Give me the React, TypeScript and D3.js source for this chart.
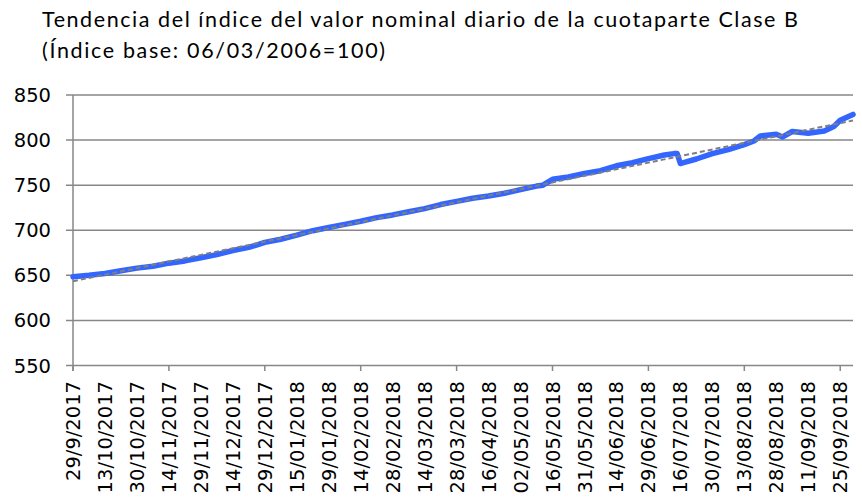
import * as d3 from 'd3';
import React, { useEffect, useRef } from 'react';

// category labels shown every 10 business days
const dateLabels = [
  '29/9/2017', '13/10/2017', '30/10/2017', '14/11/2017', '29/11/2017',
  '14/12/2017', '29/12/2017', '15/01/2018', '29/01/2018', '14/02/2018',
  '28/02/2018', '14/03/2018', '28/03/2018', '16/04/2018', '02/05/2018',
  '16/05/2018', '31/05/2018', '14/06/2018', '29/06/2018', '16/07/2018',
  '30/07/2018', '13/08/2018', '28/08/2018', '11/09/2018', '25/09/2018',
];

// business-day position of each reading
const dayIndex = [
  0, 5, 10, 15, 20, 25, 30, 35, 40, 45, 50, 55, 60, 65, 70, 75, 80, 85, 90,
  95, 100, 105, 110, 115, 120, 125, 130, 135, 140, 145, 147, 150, 155, 160,
  165, 170, 175, 180, 185, 188, 189, 190, 191, 195, 200, 205, 210, 213, 215,
  220, 222, 225, 230, 235, 238, 240, 244,
];

// index value
const indexValue = [
  648.5, 650, 652, 655, 658, 660, 663.5, 666, 669.5, 673, 677.5, 681, 686.5,
  690, 694.5, 699.5, 703, 706.5, 710, 714, 717, 720.5, 724, 728.5, 732, 735.5,
  738, 741, 745, 749, 750, 756.5, 759, 763, 766, 771.5, 775, 779.5, 783.5, 785,
  785, 774, 775, 779, 785, 789.5, 795, 799, 804.5, 806.5, 803.5, 809.5, 807.5,
  810, 815, 822, 828.5,
];

const yTicks = [550, 600, 650, 700, 750, 800, 850];
const lastDay = 244;

const App = () => {
  const svgRef = useRef(null);
  const width = 862;
  const height = 500;

  useEffect(() => {
    const svg = d3.select(svgRef.current);
    svg.selectAll('*').remove();

    const x = d3.scaleLinear().domain([0, lastDay]).range([73, 853]);
    const y = d3.scaleLinear().domain([550, 850]).range([365.5, 95]);
    const data = dayIndex.map((d, i) => ({ d, v: indexValue[i] }));

    // title
    const title = svg.append('g')
      .style('font-family', 'Lato, sans-serif')
      .style('font-size', '21.5px').attr('fill', '#000');
    title.append('text').attr('x', 42).attr('y', 27)
      .attr('textLength', 756).attr('lengthAdjust', 'spacing')
      .text('Tendencia del índice del valor nominal diario de la cuotaparte Clase B');
    title.append('text').attr('x', 42).attr('y', 58)
      .attr('textLength', 343).attr('lengthAdjust', 'spacing')
      .text('(Índice base: 06/03/2006=100)');

    // gridlines + y labels
    const grid = svg.append('g');
    grid.selectAll('line').data(yTicks).enter().append('line')
      .attr('x1', 66).attr('x2', 853)
      .attr('y1', (d) => y(d)).attr('y2', (d) => y(d))
      .attr('stroke', '#878787').attr('stroke-width', 1.5);
    svg.append('g').selectAll('text').data(yTicks).enter().append('text')
      .attr('x', 51).attr('y', (d) => y(d)).attr('dy', '0.36em')
      .attr('text-anchor', 'end')
      .style('font-family', 'DejaVu Sans, sans-serif').style('font-size', '19.5px')
      .text((d) => d);

    // axes lines
    svg.append('line').attr('x1', 73).attr('x2', 73).attr('y1', 95).attr('y2', 371)
      .attr('stroke', '#878787').attr('stroke-width', 1.5);
    svg.append('g').selectAll('line').data(d3.range(0, 241, 30)).enter().append('line')
      .attr('x1', (d) => x(d)).attr('x2', (d) => x(d))
      .attr('y1', 365.5).attr('y2', 371)
      .attr('stroke', '#878787').attr('stroke-width', 1.5);

    // x labels
    svg.append('g').selectAll('text').data(dateLabels).enter().append('text')
      .attr('transform', (d, i) => `translate(${x(i * 10)},381) rotate(-90)`)
      .attr('dy', '0.36em')
      .attr('text-anchor', 'end')
      .style('font-family', 'DejaVu Sans, sans-serif').style('font-size', '19.5px')
      .text((d) => d);

    // series
    const line = d3.line().x((p) => x(p.d)).y((p) => y(p.v));
    svg.append('path').datum(data).attr('d', line)
      .attr('fill', 'none').attr('stroke', '#3366ff').attr('stroke-width', 5.5)
      .attr('stroke-linejoin', 'round').attr('stroke-linecap', 'round');

    // linear trend (least squares)
    const mx = d3.mean(data, (p) => p.d);
    const my = d3.mean(data, (p) => p.v);
    const slope = d3.sum(data, (p) => (p.d - mx) * (p.v - my)) / d3.sum(data, (p) => (p.d - mx) ** 2);
    const trend = [0, lastDay].map((d) => ({ d, v: my + slope * (d - mx) }));
    svg.append('path').datum(trend).attr('d', line)
      .attr('fill', 'none').attr('stroke', '#7f7f7f').attr('stroke-width', 2)
      .attr('stroke-dasharray', '5,3');
  }, []);

  return (
    <svg ref={svgRef} width={width} height={height}
      style={{ position: 'absolute', left: 0, top: 0, background: 'white' }}></svg>
  );
};

export default App;
